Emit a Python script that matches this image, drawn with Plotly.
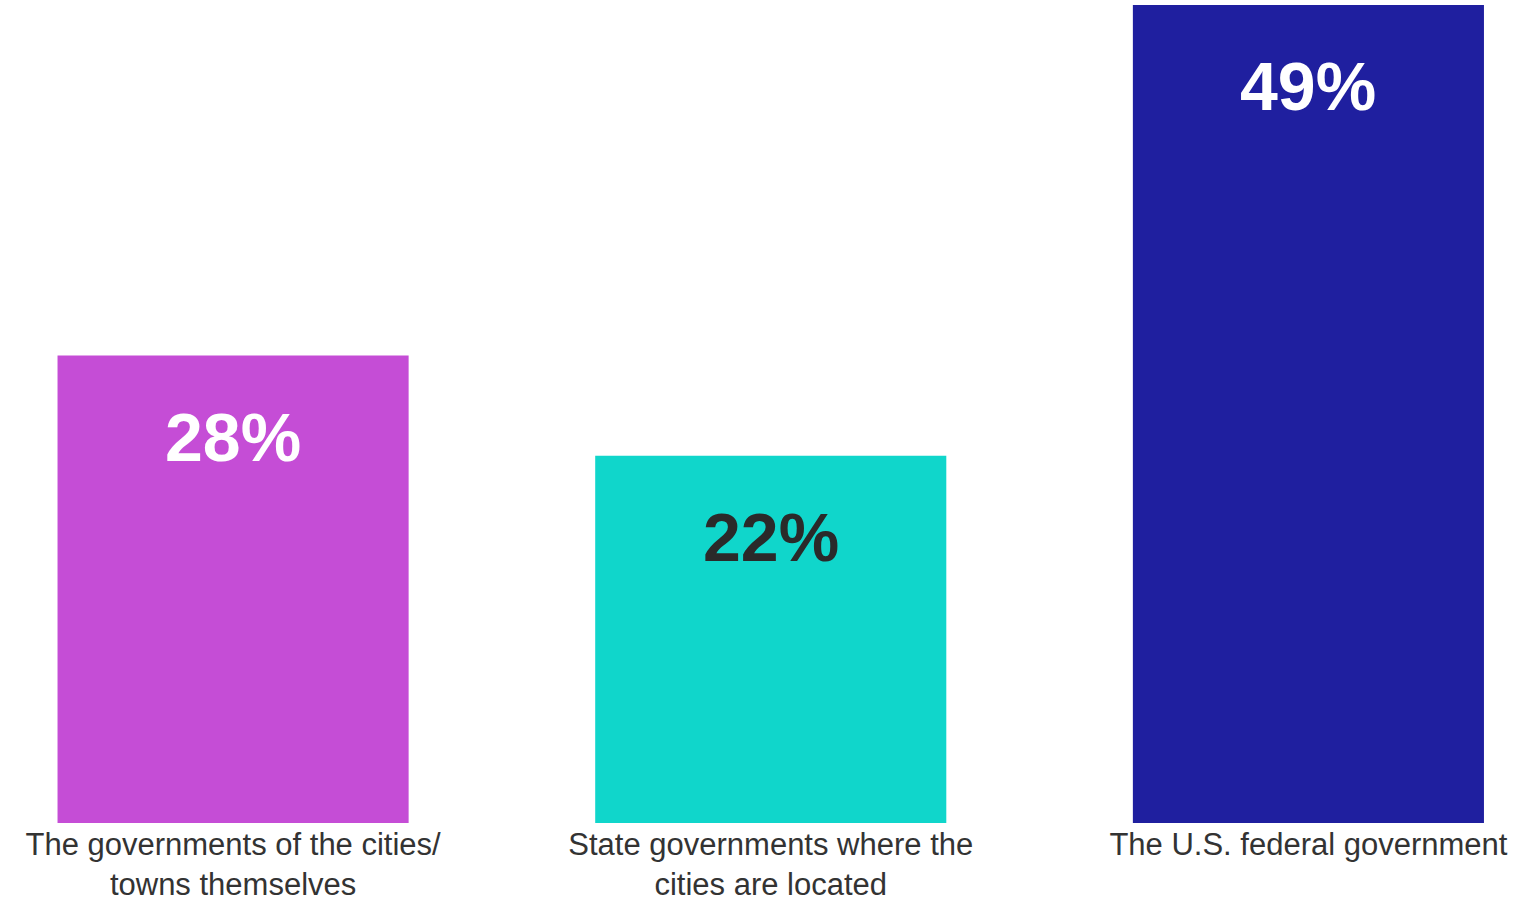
import plotly.graph_objects as go

# Survey responses: who should be responsible
categories = [
    "The governments of the cities/<br>towns themselves",
    "State governments where the<br>cities are located",
    "The U.S. federal government",
]
values = [28, 22, 49]
bar_colors = ["#C54DD6", "#10D6CB", "#1F1F9F"]
label_colors = ["#FFFFFF", "#2A2A2A", "#FFFFFF"]

fig = go.Figure(
    go.Bar(
        x=categories,
        y=values,
        marker=dict(color=bar_colors, line=dict(width=0)),
        width=0.653,
        hoverinfo="skip",
    )
)

# Value labels placed inside each bar, near its top
for cat, val, col in zip(categories, values, label_colors):
    fig.add_annotation(
        x=cat,
        y=val,
        text=f"{val}%",
        showarrow=False,
        yanchor="middle",
        yshift=-81,
        font=dict(family="Liberation Sans, Arial, sans-serif", size=68, color=col, weight="bold"),
    )

fig.update_layout(
    width=1538,
    height=902,
    margin=dict(l=0, r=0, t=5, b=79),
    paper_bgcolor="white",
    plot_bgcolor="white",
    showlegend=False,
    xaxis=dict(
        type="category",
        range=[-0.4335, 2.427],
        automargin=False,
        showgrid=False,
        showline=False,
        zeroline=False,
        ticks="",
        ticklabelstandoff=0,
        tickfont=dict(family="Liberation Sans, Arial, sans-serif", size=31, color="#333333"),
    ),
    yaxis=dict(
        range=[0, 49],
        automargin=False,
        showgrid=False,
        showline=False,
        zeroline=False,
        showticklabels=False,
        ticks="",
    ),
)

fig.write_html("out.html")
